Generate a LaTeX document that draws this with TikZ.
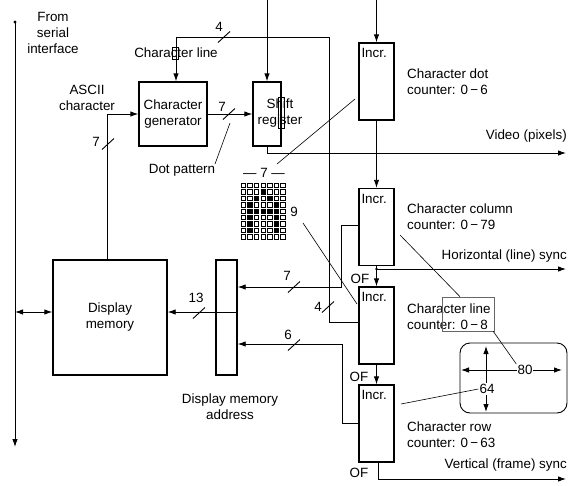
\documentclass[tikz,border=0pt]{standalone}
\usepackage{fontspec}
\setmainfont{Liberation Sans}
\usetikzlibrary{arrows.meta,positioning}

\begin{document}
\begin{tikzpicture}[x=1pt,y=-1pt,
    font=\fontsize{13.4}{16}\selectfont,
    conn/.style={line width=0.9pt},
    arr/.style={-{Latex[length=8pt,width=5.5pt]}},
    darr/.style={{Latex[length=8pt,width=5.5pt]}-{Latex[length=8pt,width=5.5pt]}},
    ptr/.style={line width=0.6pt},
    blk/.style={draw,line width=1.4pt,inner sep=0pt},
    cnt/.style={blk,minimum width=35pt,minimum height=77pt},
    txt/.style={align=center,inner sep=0pt},
    desc/.style={align=left,anchor=west,inner sep=0pt},
    bus/.pic={\draw[line width=0.9pt] (-6,5.5) -- (6,-5.5);},
  ]
  \useasboundingbox (0,0) rectangle (568,485);
  %--- blocks ---
  \node[blk,align=center,minimum width=68pt,minimum height=64pt] (chargen) at (173,114) {Character\\generator};
  \node[blk,minimum width=28pt,minimum height=64pt] (shiftreg) at (267,114) {};
  \node[txt] (shiftlbl) at (280,113) {Shift\\register};
  \node[blk,align=center,minimum width=114pt,minimum height=115pt] (dispmem) at (110,317.5) {Display\\memory};
  \node[blk,minimum width=21pt,minimum height=115pt] (dmaddr) at (226.5,317.5) {};
  \node[txt,below=18pt of dmaddr,xshift=3.5pt] (dmaddrlbl) {Display memory\\address};
  %--- counters ---
  \node[cnt] (dotcnt) at (376.5,81.5) {};
  \node[cnt] (colcnt) at (376.5,227) {};
  \node[cnt] (linecnt) at (376.5,325.5) {};
  \node[cnt] (rowcnt) at (376.5,423.5) {};
  \foreach \n in {dotcnt,colcnt,linecnt,rowcnt}
    \node[anchor=north west,inner sep=0pt] (\n-incr) at ([xshift=3pt,yshift=-6pt]\n.north west) {Incr.};
  \node[desc] (dotlbl) at (407,81.5) {Character dot\\counter: 0\,−\,6};
  \node[desc] (collbl) at (407,217) {Character column\\counter: 0\,−\,79};
  \node[desc] (linelbl) at (407,317) {Character line\\counter: 0\,−\,8};
  \node[desc] (rowlbl) at (407,435) {Character row\\counter: 0\,−\,63};
  \node[inner sep=0pt] (of1) at (360,279) {OF};
  \node[inner sep=0pt] (of2) at (359,377) {OF};
  \node[inner sep=0pt] (of3) at (359,473) {OF};
  %--- free texts ---
  \node[txt] (serial) at (53,32.5) {From\\serial\\interface};
  \node[txt] (ascii) at (87,97.5) {ASCII\\character};
  \node[txt] (cline) at (176,53) {Character line};
  \node[txt] (dotpat) at (182,170) {Dot pattern};
  \node[anchor=east,inner sep=0pt] (videolbl) at (567,136) {Video (pixels)};
  \node[anchor=east,inner sep=0pt] (hsynclbl) at (567,256) {Horizontal (line) sync};
  \node[anchor=east,inner sep=0pt] (vsynclbl) at (567,465) {Vertical (frame) sync};
  %--- bus widths ---
  \node[inner sep=0pt] (w4a) at (219,27) {4};
  \node[inner sep=0pt] (w7a) at (222,107) {7};
  \node[inner sep=0pt] (w7b) at (96,142) {7};
  \node[inner sep=0pt] (w7c) at (264,173) {— 7 —};
  \node[inner sep=0pt] (w9) at (294,212) {9};
  \node[inner sep=0pt] (w7d) at (287,276) {7};
  \node[inner sep=0pt] (w4b) at (318,307) {4};
  \node[inner sep=0pt] (w13) at (196,298) {13};
  \node[inner sep=0pt] (w6) at (288,335) {6};
  %--- dot matrix 7x9 ---
  \foreach \r in {0,...,8}
    \foreach \c in {0,...,6}
      \draw[line width=0.6pt] (241+\c*6.6,183+\r*6.45) rectangle ++(4.5,4.5);
  \foreach \c/\r in {3/1,2/2,4/2,1/3,5/3,1/4,2/4,3/4,4/4,5/4,1/5,5/5,1/6,5/6,1/7,5/7}
    \fill (241+\c*6.6,183+\r*6.45) rectangle ++(4.5,4.5);
  %--- little boxes over the texts ---
  \draw[ptr] (172,47) rectangle (178,59);
  \draw[ptr] (278,97) rectangle (284,128);
  \node[draw=gray!80!black,line width=0.6pt,minimum width=52pt,minimum height=34pt] (cell) at (468,314) {};
  \node[draw,line width=0.9pt,rounded corners=10pt,minimum width=107pt,minimum height=70pt] (screen) at (513.5,378) {};
  %--- serial bus ---
  \coordinate (bustop) at (15,22);
  \coordinate (busend) at (15,447);
  \fill (bustop) circle (1.6pt);
  \draw[conn,arr] (bustop) -- (busend);
  \draw[conn,darr] (bustop |- 0,312) -- (dispmem.west |- 0,312);
  %--- data paths ---
  \draw[conn,arr] ([xshift=-3pt]dispmem.north) |- (chargen.west);
  \pic at (108,144) {bus};
  \draw[conn,arr] (chargen.east) -- (shiftreg.west);
  \pic at (229,114) {bus};
  \draw[conn,arr] (shiftreg.north |- 0,0) -- (shiftreg.north);
  \draw[conn,arr] (shiftreg.south) |- (566,153);
  \draw[conn,arr] ([yshift=3pt]linecnt.west) -| (329,37) -| ([xshift=3pt]chargen.north);
  \pic at (224,37) {bus};
  \pic at (328,307) {bus};
  \draw[conn,arr] (dmaddr.east |- 0,312) -- (dispmem.east |- 0,312);
  \pic at (199,313) {bus};
  \draw[conn,arr] ([yshift=2pt]colcnt.west) -| (341,287) -- (dmaddr.east |- 0,287);
  \pic at (294,287) {bus};
  \draw[conn,arr] (rowcnt.west) -| (342,344) -- (dmaddr.east |- 0,344);
  \pic at (294,345) {bus};
  %--- counter chain ---
  \draw[conn,arr] (dotcnt.north |- 0,0) -- (dotcnt.north);
  \draw[conn,arr] (dotcnt) -- (colcnt);
  \draw[conn,arr] (colcnt) -- (linecnt);
  \draw[conn,arr] (linecnt) -- (rowcnt);
  \coordinate (hs) at (colcnt.south |- 0,269);
  \fill (hs) circle (1.3pt);
  \draw[conn,arr] (hs) -- (566,269);
  \draw[conn,arr] ([xshift=1.5pt]rowcnt.south) |- (566,479);
  %--- screen ---
  \draw[conn,darr] (461,370) -- (562,370);
  \draw[conn,darr] (486,346) -- (486,412);
  \node[fill=white,inner sep=1pt] (n80) at (525,370) {80};
  \node[fill=white,inner sep=1pt] (n64) at (487,389) {64};
  %--- pointer lines ---
  \draw[ptr] (355,99) -- (277,164);
  \draw[ptr] (215,164) -- (230,123);
  \draw[ptr] (303,223) -- (357,304);
  \draw[ptr] (400,235) -- (cell.north -| 460,0);
  \draw[ptr] (493,331) -- (n80.north west);
  \draw[ptr] (401,404) -- (n64.west);
\end{tikzpicture}
\end{document}
